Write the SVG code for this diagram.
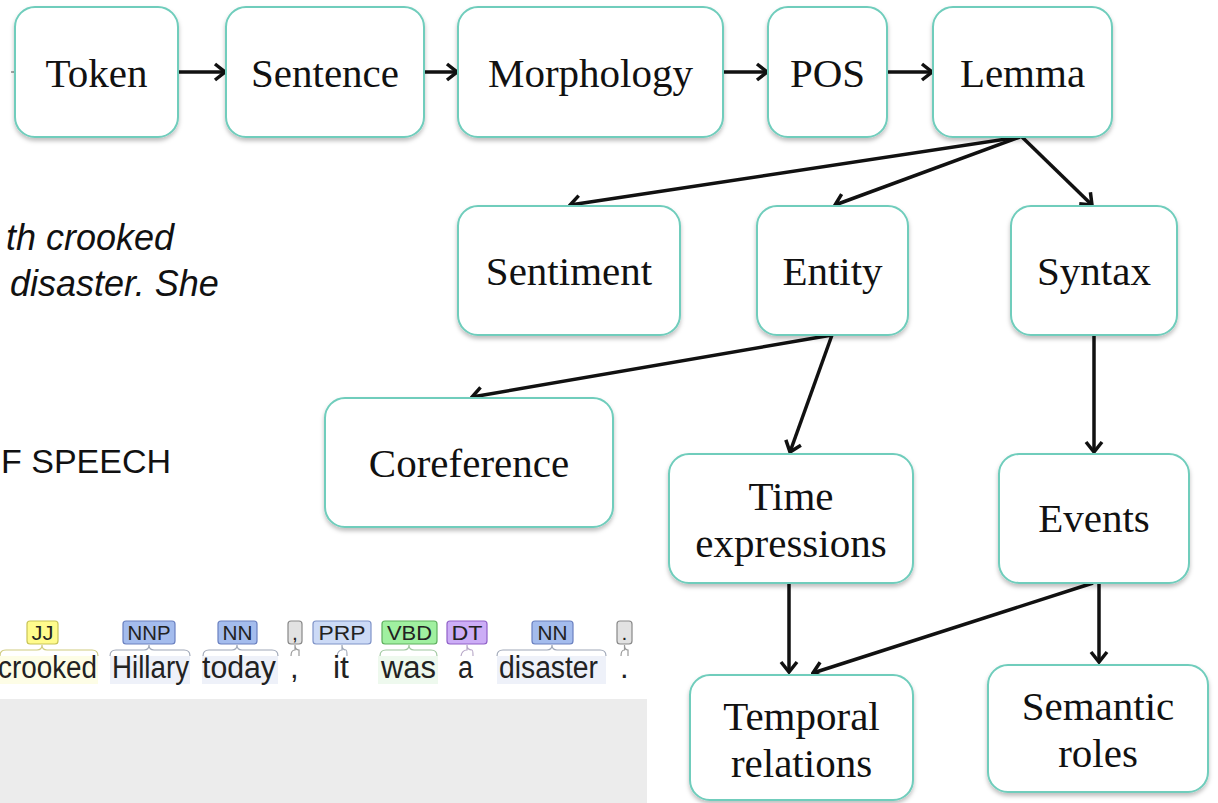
<svg xmlns="http://www.w3.org/2000/svg" width="1218" height="803" viewBox="0 0 1218 803">
<defs>
<filter id="sh" x="-10%" y="-10%" width="120%" height="130%"><feDropShadow dx="0" dy="3" stdDeviation="2" flood-color="#000" flood-opacity="0.25"/></filter>
<marker id="ah" viewBox="0 0 14 20" refX="12" refY="10" markerWidth="14" markerHeight="20" markerUnits="userSpaceOnUse" orient="auto"><path d="M2,2 L12,10 L2,18" fill="none" stroke="#111" stroke-width="3.5"/></marker>
</defs>
<style>
.box{fill:#fff;stroke:#6fcdbc;stroke-width:2;filter:url(#sh)}
.lbl{font-family:"Liberation Serif",serif;font-size:41px;fill:#111;text-anchor:middle}
.con{stroke:#111;stroke-width:3.5;fill:none;marker-end:url(#ah)}
.it{font-family:"Liberation Sans",Arial,sans-serif;font-style:italic;font-size:36px;fill:#111}
.rg{font-family:"Liberation Sans",Arial,sans-serif;font-size:34px;fill:#111}
.tag{stroke-width:1.2}
.tt{font-family:"Liberation Sans",Arial,sans-serif;font-size:21px;fill:#222;text-anchor:middle}
.wd{font-family:"Liberation Sans",Arial,sans-serif;font-size:31px;fill:#222}
.br{fill:none;stroke-width:1.2}
</style>
<rect width="1218" height="803" fill="#fff"/>

<g id="left-text">
<text class="it" x="6" y="250">th crooked</text>
<text class="it" x="10" y="296">disaster. She</text>
<text class="rg" x="1" y="473">F SPEECH</text>
</g>

<g id="pos-panel">
<rect x="0" y="699" width="647" height="104" fill="#ececec"/>
<rect x="0" y="656" width="98" height="28" fill="#fdfde6"/>
<rect x="110" y="656" width="80" height="28" fill="#eef1f9"/>
<rect x="202" y="656" width="76" height="28" fill="#eef1f9"/>
<rect x="378" y="656" width="60" height="28" fill="#eef9ee"/>
<rect x="497" y="656" width="109" height="28" fill="#eef1f9"/>
<rect class="tag" x="27" y="621" width="31" height="23" rx="3" fill="#fffb8c" stroke="#c8c456"/>
<text class="tt" x="42.5" y="640" textLength="22" lengthAdjust="spacingAndGlyphs">JJ</text>
<rect class="tag" x="123" y="621" width="52" height="23" rx="3" fill="#a4bced" stroke="#6a80c0"/>
<text class="tt" x="149" y="640" textLength="43" lengthAdjust="spacingAndGlyphs">NNP</text>
<rect class="tag" x="218" y="621" width="39" height="23" rx="3" fill="#a4bced" stroke="#6a80c0"/>
<text class="tt" x="237.5" y="640" textLength="30" lengthAdjust="spacingAndGlyphs">NN</text>
<rect class="tag" x="288" y="621" width="14" height="23" rx="3" fill="#e2e2e2" stroke="#888"/>
<text class="tt" x="295" y="640">,</text>
<rect class="tag" x="313" y="621" width="58" height="23" rx="3" fill="#ccdaf6" stroke="#7f93c8"/>
<text class="tt" x="342" y="640" textLength="47" lengthAdjust="spacingAndGlyphs">PRP</text>
<rect class="tag" x="382" y="621" width="55" height="23" rx="3" fill="#a0f0a0" stroke="#5fb05f"/>
<text class="tt" x="409.5" y="640" textLength="45" lengthAdjust="spacingAndGlyphs">VBD</text>
<rect class="tag" x="447" y="621" width="40" height="23" rx="3" fill="#ccadf6" stroke="#9060c8"/>
<text class="tt" x="467" y="640" textLength="31" lengthAdjust="spacingAndGlyphs">DT</text>
<rect class="tag" x="532" y="621" width="41" height="23" rx="3" fill="#a4bced" stroke="#6a80c0"/>
<text class="tt" x="552.5" y="640" textLength="30" lengthAdjust="spacingAndGlyphs">NN</text>
<rect class="tag" x="617" y="621" width="15" height="23" rx="3" fill="#e2e2e2" stroke="#888"/>
<text class="tt" x="624.5" y="640">.</text>
<path class="br" stroke="#d0cc80" d="M0,656 Q0,650 6,650 L37,650 Q42,650 42,645 Q42,650 47,650 L92,650 Q98,650 98,656"/>
<path class="br" stroke="#a0a8b8" d="M110,656 Q110,650 116,650 L144,650 Q149,650 149,645 Q149,650 154,650 L184,650 Q190,650 190,656"/>
<path class="br" stroke="#a0a8b8" d="M203,656 Q203,650 209,650 L232,650 Q237,650 237,645 Q237,650 242,650 L272,650 Q278,650 278,656"/>
<path class="br" stroke="#999" d="M291,656 Q291,650 295,650 Q295,645 295,645 Q295,650 299,650 Q299,650 299,656"/>
<path class="br" stroke="#a0a8b8" d="M337,656 Q338,650 342,650 Q342,646 342,645 Q342,650 346,650 Q347,650 347,656"/>
<path class="br" stroke="#a0c8a0" d="M380,656 Q380,650 386,650 L404,650 Q409,650 409,645 Q409,650 414,650 L431,650 Q437,650 437,656"/>
<path class="br" stroke="#b8a8c8" d="M461,656 Q462,650 467,650 Q467,646 467,645 Q467,650 472,650 Q473,650 473,656"/>
<path class="br" stroke="#a0a8b8" d="M497,656 Q497,650 503,650 L547,650 Q552,650 552,645 Q552,650 557,650 L600,650 Q606,650 606,656"/>
<path class="br" stroke="#999" d="M621,656 Q621,650 624.5,650 Q624.5,646 624.5,645 Q624.5,650 628,650 Q628,650 628,656"/>
<text class="wd" x="-2" y="678" textLength="99" lengthAdjust="spacingAndGlyphs">crooked</text>
<text class="wd" x="112" y="678" textLength="77" lengthAdjust="spacingAndGlyphs">Hillary</text>
<text class="wd" x="202" y="678" textLength="74" lengthAdjust="spacingAndGlyphs">today</text>
<text class="wd" x="290" y="678">,</text>
<text class="wd" x="333" y="678" textLength="16" lengthAdjust="spacingAndGlyphs">it</text>
<text class="wd" x="381" y="678" textLength="55" lengthAdjust="spacingAndGlyphs">was</text>
<text class="wd" x="458" y="678" textLength="15" lengthAdjust="spacingAndGlyphs">a</text>
<text class="wd" x="499" y="678" textLength="99" lengthAdjust="spacingAndGlyphs">disaster</text>
<text class="wd" x="620" y="678">.</text>
</g>

<g id="connectors">
<line x1="11" y1="72" x2="15" y2="72" stroke="#555" stroke-width="1"/>
<line class="con" x1="178" y1="72" x2="225" y2="72"/>
<line class="con" x1="424" y1="72" x2="457" y2="72"/>
<line class="con" x1="723" y1="72" x2="767" y2="72"/>
<line class="con" x1="887" y1="72" x2="932" y2="72"/>
<line class="con" x1="1020" y1="137" x2="570" y2="205"/>
<line class="con" x1="1020" y1="137" x2="835" y2="205"/>
<line class="con" x1="1022" y1="137" x2="1092" y2="205"/>
<line class="con" x1="832" y1="335" x2="472" y2="397"/>
<line class="con" x1="832" y1="335" x2="790" y2="452"/>
<line class="con" x1="1094" y1="335" x2="1094" y2="452"/>
<line class="con" x1="789" y1="583" x2="789" y2="672"/>
<line class="con" x1="1093" y1="583" x2="813" y2="673"/>
<line class="con" x1="1099" y1="583" x2="1099" y2="662"/>
</g>

<g id="token"><rect class="box" x="15" y="7" width="163" height="130" rx="20"/><text class="lbl" x="96.5" y="87">Token</text></g>
<g id="sentence"><rect class="box" x="226" y="7" width="198" height="130" rx="20"/><text class="lbl" x="325" y="87">Sentence</text></g>
<g id="morphology"><rect class="box" x="458" y="7" width="265" height="130" rx="20"/><text class="lbl" x="590.5" y="87">Morphology</text></g>
<g id="pos"><rect class="box" x="768" y="7" width="119" height="130" rx="20"/><text class="lbl" x="827.5" y="87">POS</text></g>
<g id="lemma"><rect class="box" x="933" y="7" width="179" height="130" rx="20"/><text class="lbl" x="1022.5" y="87">Lemma</text></g>
<g id="sentiment"><rect class="box" x="458" y="206" width="222" height="129" rx="20"/><text class="lbl" x="569" y="285">Sentiment</text></g>
<g id="entity"><rect class="box" x="757" y="206" width="151" height="129" rx="20"/><text class="lbl" x="832.5" y="285">Entity</text></g>
<g id="syntax"><rect class="box" x="1011" y="206" width="166" height="129" rx="20"/><text class="lbl" x="1094" y="285">Syntax</text></g>
<g id="coreference"><rect class="box" x="325" y="398" width="288" height="129" rx="20"/><text class="lbl" x="469" y="477">Coreference</text></g>
<g id="time-expressions"><rect class="box" x="669" y="454" width="244" height="129" rx="20"/><text class="lbl" x="791" y="510">Time</text><text class="lbl" x="791" y="557">expressions</text></g>
<g id="events"><rect class="box" x="999" y="454" width="190" height="129" rx="20"/><text class="lbl" x="1094" y="532">Events</text></g>
<g id="temporal-relations"><rect class="box" x="690" y="675" width="223" height="125" rx="20"/><text class="lbl" x="801.5" y="730">Temporal</text><text class="lbl" x="801.5" y="777">relations</text></g>
<g id="semantic-roles"><rect class="box" x="988" y="665" width="220" height="127" rx="20"/><text class="lbl" x="1098" y="720">Semantic</text><text class="lbl" x="1098" y="767">roles</text></g>
</svg>
